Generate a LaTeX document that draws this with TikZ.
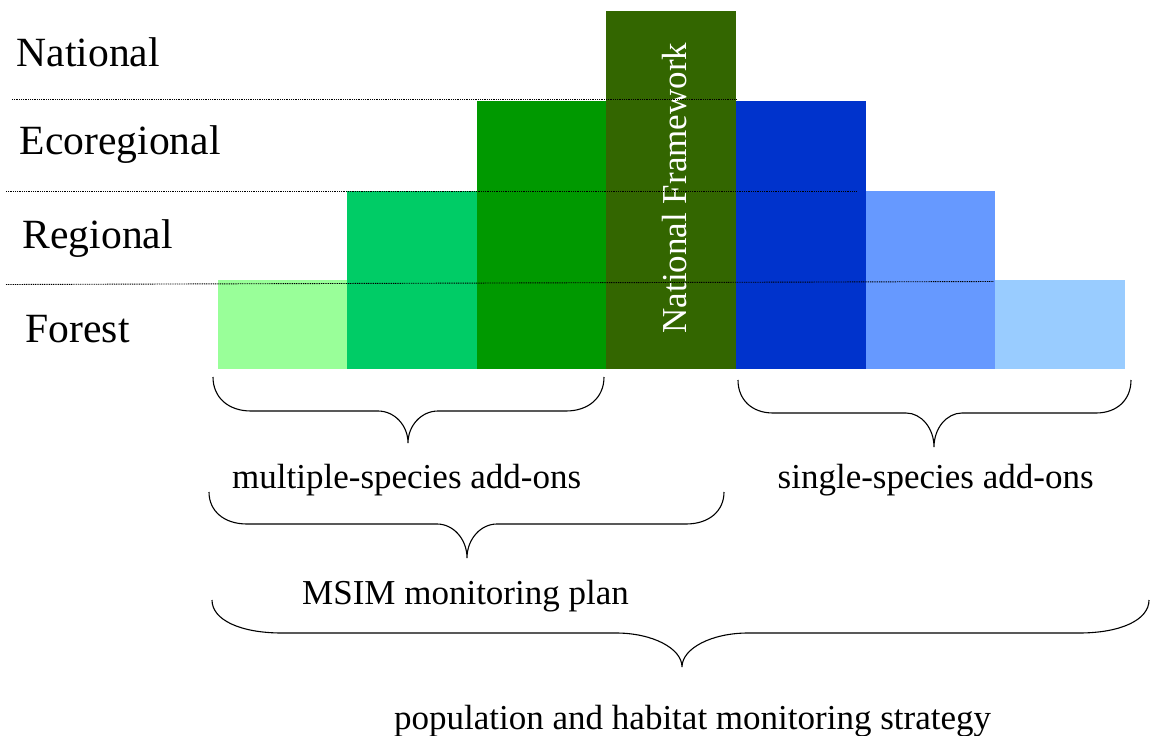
\documentclass[tikz,border=0pt]{standalone}
\usepackage{fontspec}
\setmainfont{Liberation Serif}
\definecolor{fgreenA}{HTML}{99FF99}
\definecolor{fgreenB}{HTML}{00CC66}
\definecolor{fgreenC}{HTML}{009900}
\definecolor{folive}{HTML}{336600}
\definecolor{fblueA}{HTML}{0033CC}
\definecolor{fblueB}{HTML}{6699FF}
\definecolor{fblueC}{HTML}{99CCFF}
% curly brace opening upwards: #1 left x, #2 right x, #3 tip x,
% #4 top y, #5 bar y, #6 tip y, #7 end radius, #8 middle radius
\newcommand{\curlybr}[8]{%
  \draw[bracestyle] (#1,#4) .. controls (#1,{#4+0.6*(#5-#4)}) and ({#1+0.4*#7},#5) .. ({#1+#7},#5)
    -- ({#3-#8},#5) .. controls ({#3-0.45*#8},#5) and (#3,{#5+0.45*(#6-#5)}) .. (#3,#6)
    .. controls (#3,{#5+0.45*(#6-#5)}) and ({#3+0.45*#8},#5) .. ({#3+#8},#5)
    -- ({#2-#7},#5) .. controls ({#2-0.4*#7},#5) and (#2,{#4+0.6*(#5-#4)}) .. (#2,#4);}
\tikzset{
  bracestyle/.style={line width=1.1pt, black},
  levelline/.style={line width=0.9pt, black, dash pattern=on 1pt off 0.8pt},
  levellabel/.style={anchor=base west, inner sep=0pt, font=\fontsize{41.6}{46}\selectfont},
  bracelabel/.style={anchor=base west, inner sep=0pt, font=\fontsize{35}{40}\selectfont},
}
\begin{document}
\begin{tikzpicture}[x=1pt,y=-1pt]
\useasboundingbox (0,0) rectangle (1151,736);
\fill[white] (0,0) rectangle (1151,736);

% columns
\fill[fgreenA] (218,280) rectangle (347,369);
\fill[fgreenB] (347,191) rectangle (477,369);
\fill[fgreenC] (477,101) rectangle (607,369);
\fill[folive]  (606,11)  rectangle (736,369);
\fill[fblueA]  (736,101) rectangle (866,369);
\fill[fblueB]  (866,191) rectangle (995,369);
\fill[fblueC]  (995,280) rectangle (1125,369);

\node[anchor=base, rotate=90, inner sep=0pt, text=white,
      font=\fontsize{35}{40}\selectfont] (nf) at (686,188) {National Framework};

% level separators
\coordinate (l1a) at (12,99);  \coordinate (l1b) at (737,99);
\coordinate (l2a) at (6,191);  \coordinate (l2b) at (857,191);
\coordinate (l3a) at (6,284.5); \coordinate (l3b) at (994,281.5);
\draw[levelline] (l1a) -- (l1b);
\draw[levelline] (l2a) -- (l2b);
\draw[levelline] (l3a) -- (l3b);

% level names
\node[levellabel] (nat) at (16.5,66) {National};
\node[levellabel] (eco) at (19.5,154) {Ecoregional};
\node[levellabel] (reg) at (22.5,248) {Regional};
\node[levellabel] (for) at (25.5,342) {Forest};

% braces
\curlybr{213}{604}{408}{377}{411}{443}{38}{30}
\curlybr{738}{1131}{934}{380}{413}{447}{35}{28}
\curlybr{209}{724}{467}{492}{524}{558}{38}{30}
\curlybr{212}{1149}{682}{600}{633}{667}{70}{66}

% brace labels
\node[bracelabel] (msa) at (232,488) {multiple-species add-ons};
\node[bracelabel] (ssa) at (777.5,488) {single-species add-ons};
\node[bracelabel] (msim) at (302,604) {MSIM monitoring plan};
\node[bracelabel] (phms) at (394,729) {population and habitat monitoring strategy};
\end{tikzpicture}
\end{document}
